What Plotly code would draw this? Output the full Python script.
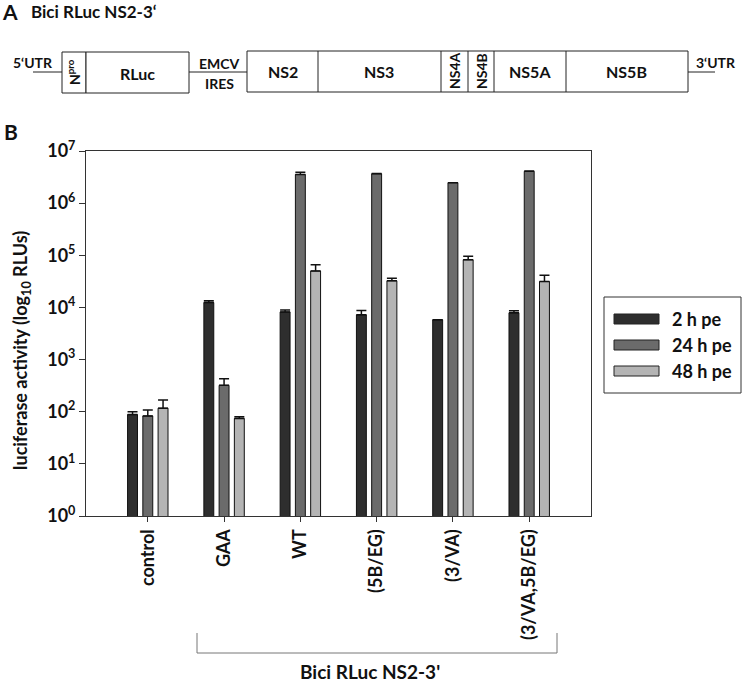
import plotly.graph_objects as go

# data (log scale)
categories = ["control", "GAA", "WT", "(5B/EG)", "(3/VA)", "(3/VA,5B/EG)"]
series_names = ["2 h pe", "24 h pe", "48 h pe"]
rlu_2h = [88, 12400, 8200, 7200, 5800, 7900]
rlu_24h = [83, 320, 3550000, 3660000, 2470000, 4070000]
rlu_48h = [117, 74, 50000, 32400, 82000, 31400]
err_2h = [12, 1000, 700, 1500, 0, 700]
err_24h = [25, 110, 350000, 60000, 0, 60000]
err_48h = [50, 6, 16000, 4000, 14000, 10000]
y_tickvals = [1, 10, 100, 1000, 10000, 100000, 1000000, 10000000]
y_ticktext = ["10<sup>%d</sup>" % i for i in range(8)]

colors = ["#2e2e2e", "#6b6b6b", "#b4b4b4"]
FONT = "Lato"

W, H = 742, 682
L, R, T, B = 86, 591, 151, 516  # plot area in pixels


def px(x):
    return (x - L) / (R - L)


def py(y):
    return (B - y) / (B - T)


fig = go.Figure()
for name, vals, errs, col in zip(series_names, [rlu_2h, rlu_24h, rlu_48h],
                                 [err_2h, err_24h, err_48h], colors):
    fig.add_trace(go.Bar(
        x=categories, y=vals, name=name,
        marker=dict(color=col, line=dict(color="#111111", width=1)),
        error_y=dict(type="data", symmetric=False, array=errs,
                     arrayminus=[0] * len(errs), color="#111111",
                     thickness=1.5, width=5),
        showlegend=False,
    ))

shapes = []
annos = []


def line(x0, y0, x1, y1, color="#222222", w=1):
    shapes.append(dict(type="line", xref="paper", yref="paper",
                       x0=px(x0), y0=py(y0), x1=px(x1), y1=py(y1),
                       line=dict(color=color, width=w)))


def rect(x0, y0, x1, y1, fill="white", color="#222222", w=1):
    shapes.append(dict(type="rect", xref="paper", yref="paper",
                       x0=px(x0), y0=py(y0), x1=px(x1), y1=py(y1),
                       fillcolor=fill, line=dict(color=color, width=w)))


def text(x, y, s, size=13, angle=0, xanchor="center", yanchor="middle", color="#111111"):
    annos.append(dict(xref="paper", yref="paper", x=px(x), y=py(y), text=s,
                      showarrow=False, textangle=angle, xanchor=xanchor, yanchor=yanchor,
                      font=dict(family=FONT, size=size, color=color, weight="bold")))


# panel A: genome diagram
text(0, 12, "A", size=21, xanchor="left")
text(29, 12, "Bici RLuc NS2-3\u2018", size=17, xanchor="left")
line(33, 72, 62, 72)
text(33, 62, "5\u2018UTR", size=14)
rect(62, 52, 86, 93)
text(74, 72, "N<sup>pro</sup>", size=14, angle=-90)
rect(86, 52, 189, 93)
text(137, 73, "RLuc", size=16)
line(189, 72, 247, 72)
text(219, 63, "EMCV", size=14)
text(219, 83, "IRES", size=14)
rect(247, 51, 688, 92)
for xd in [318, 441, 468, 494, 566]:
    line(xd, 51, xd, 92)
text(283, 72, "NS2", size=16)
text(379, 72, "NS3", size=16)
text(454, 71, "NS4A", size=14, angle=-90)
text(481, 71, "NS4B", size=14, angle=-90)
text(530, 72, "NS5A", size=16)
text(626, 72, "NS5B", size=16)
line(688, 72, 715, 72)
text(716, 62, "3\u2018UTR", size=14)

# panel B label and y title
text(2, 131, "B", size=21, xanchor="left")
text(21, 351, "luciferase activity (log<sub>10</sub> RLUs)", size=18, angle=-90)

# legend box
rect(604, 297, 741, 393, color="#333333")
for i, (name, col) in enumerate(zip(series_names, colors)):
    yc = 319 + i * 26
    rect(614, yc - 5, 659, yc + 5, fill=col, color="#222222")
    text(670, yc, name, size=18, xanchor="left")

# bracket under the x labels
line(197, 633, 197, 653, color="#777777")
line(197, 653, 557, 653, color="#777777")
line(557, 633, 557, 653, color="#777777")
text(370, 671, "Bici RLuc NS2-3'", size=19)

fig.update_layout(
    width=W, height=H,
    margin=dict(l=L, r=W - R, t=T, b=H - B),
    paper_bgcolor="white", plot_bgcolor="white",
    barmode="group", bargap=0.4, bargroupgap=0.35,
    font=dict(family=FONT, color="#111111"),
    shapes=shapes, annotations=annos,
    xaxis=dict(range=[-0.81, 5.81], showline=True, mirror=True,
               linecolor="#333333", linewidth=1, ticks="outside", ticklen=5,
               tickcolor="#333333", tickangle=-90,
               tickfont=dict(family=FONT, size=18, weight="bold")),
    yaxis=dict(type="log", range=[0, 7], showline=True, mirror=True,
               linecolor="#333333", linewidth=1, ticks="outside", ticklen=6,
               tickcolor="#333333", showgrid=False, zeroline=False,
               tickmode="array", tickvals=y_tickvals, ticktext=y_ticktext,
               tickfont=dict(family=FONT, size=18, weight="bold")),
)

# the page has a default 8px body margin; drop it so the figure fills the window
fig.write_html("out.html", config={"displayModeBar": False},
               post_script="document.body.style.margin='0';")
